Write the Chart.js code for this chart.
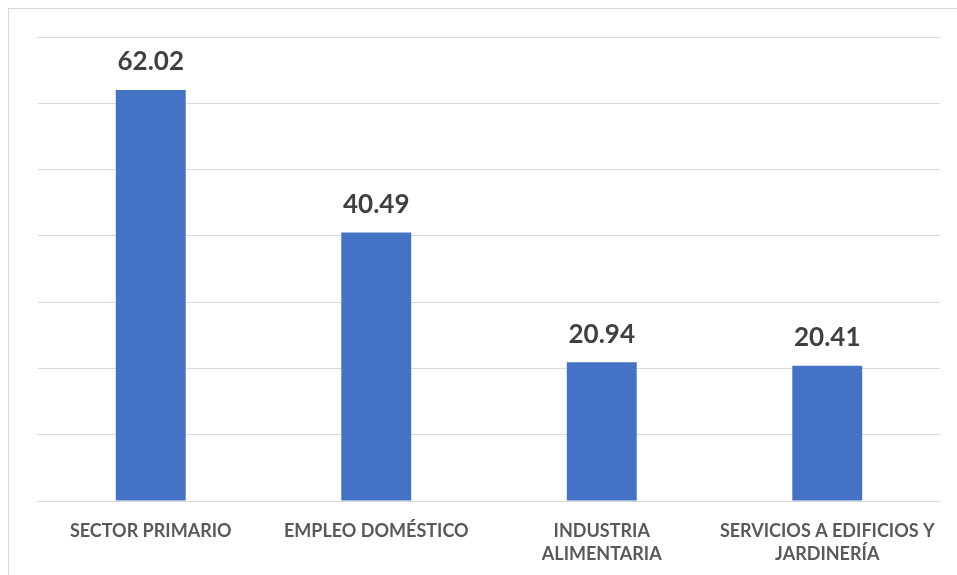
<!DOCTYPE html>
<html>
<head>
<meta charset="utf-8">
<script src="https://cdn.jsdelivr.net/npm/chart.js@4/dist/chart.umd.min.js"></script>
<style>
  html, body { margin: 0; padding: 0; background: #fff; }
  #wrap { width: 957px; height: 575px; position: relative; }
</style>
</head>
<body>
<div id="wrap"><canvas id="sectores" width="957" height="575"></canvas></div>
<script>
// categories and values
let categorias = ['SECTOR PRIMARIO', 'EMPLEO DOMÉSTICO', ['INDUSTRIA', 'ALIMENTARIA'], ['SERVICIOS A EDIFICIOS Y', 'JARDINERÍA']];
let valores = [62.02, 40.49, 20.94, 20.41];
let ejeMax = 70;
let ejePaso = 10;

// values written above each bar
const etiquetas = {
    id: 'etiquetas',
    afterDatasetsDraw(chart) {
        let ctx = chart.ctx;
        let meta = chart.getDatasetMeta(0);
        ctx.save();
        ctx.font = 'bold 26px Lato';
        ctx.fillStyle = '#404040';
        ctx.textAlign = 'center';
        ctx.textBaseline = 'bottom';
        meta.data.forEach((bar, i) => {
            ctx.fillText(valores[i].toFixed(2), bar.x, bar.y - 15);
        });
        ctx.restore();
    }
};

// thin frame round the chart
const marco = {
    id: 'marco',
    beforeDraw(chart) {
        let ctx = chart.ctx;
        ctx.save();
        ctx.strokeStyle = '#d9d9d9';
        ctx.lineWidth = 1;
        ctx.strokeRect(8.5, 8.5, 1000, 1000);
        ctx.restore();
    }
};

let ctx = document.getElementById('sectores');
let myChart = new Chart(ctx, {
    type: 'bar',
    data: {
        labels: categorias,
        datasets: [{
            data: valores,
            backgroundColor: '#4472C4',
            borderWidth: 0,
            categoryPercentage: 1,
            barPercentage: 0.31
        }]
    },
    options: {
        responsive: false,
        animation: false,
        layout: { padding: { top: 37, left: 38, right: 17, bottom: 0 } },
        plugins: {
            legend: { display: false },
            tooltip: { enabled: false }
        },
        scales: {
            x: {
                grid: { display: false },
                border: { display: false },
                ticks: {
                    color: '#595959',
                    font: { family: 'Lato', size: 18, weight: 'bold', lineHeight: 1.3 },
                    padding: 10,
                    maxRotation: 0,
                    autoSkip: false
                },
                afterFit(scale) { scale.height = 74; }
            },
            y: {
                min: 0,
                max: ejeMax,
                ticks: { display: false, stepSize: ejePaso },
                border: { display: false },
                grid: { color: '#d9d9d9', drawTicks: false }
            }
        }
    },
    plugins: [etiquetas, marco]
});
</script>
</body>
</html>
